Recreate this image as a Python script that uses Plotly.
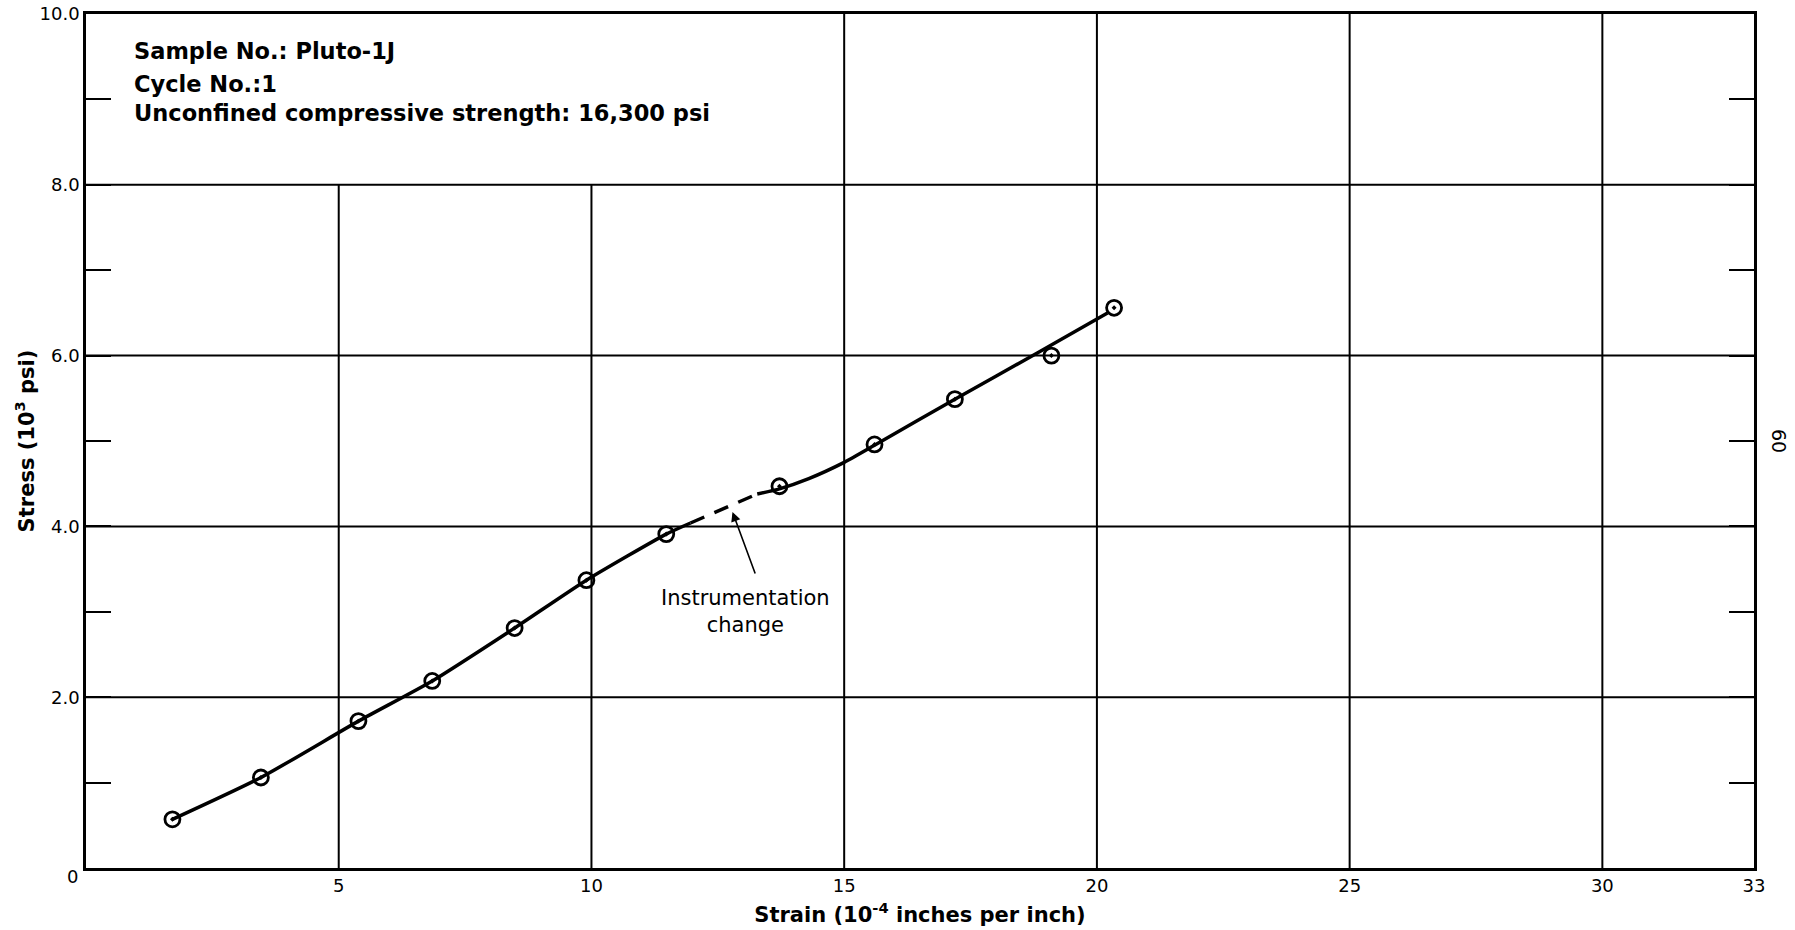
import plotly.graph_objects as go

# measured points (strain 1e-4 in/in, stress 1e3 psi)
strain = [1.71, 3.46, 5.39, 6.85, 8.48, 9.90, 11.48, 13.72, 15.60, 17.19, 19.10, 20.34]
stress = [0.57, 1.06, 1.72, 2.19, 2.81, 3.37, 3.91, 4.47, 4.96, 5.49, 6.00, 6.56]

# hand-drawn fitted curve (three pieces)
fit1_x = [1.71, 3.46, 5.39, 6.85, 8.48, 9.90, 11.48, 11.96]
fit1_y = [0.57, 1.06, 1.72, 2.19, 2.81, 3.37, 3.91, 4.04]
fitd_x = [11.96, 13.28]
fitd_y = [4.04, 4.38]
fit2_x = [13.28, 13.72, 14.3, 15.0, 15.6, 17.19, 18.82, 20.21]
fit2_y = [4.38, 4.44, 4.56, 4.75, 4.95, 5.49, 6.03, 6.50]

x_ticks = [5, 10, 15, 20, 25, 30, 33]
x_ticktext = ["5", "10", "15", "20", "25", "30", "33"]
y_ticks = [0, 1, 2, 3, 4, 5, 6, 7, 8, 9, 10]
y_ticktext = ["", "", "2.0", "", "4.0", "", "6.0", "", "8.0", "", "10.0"]
x_grid_short = [5, 10]
x_grid_full = [15, 20, 25, 30]
y_grid = [2, 4, 6, 8]

info_lines = ["Sample No.: Pluto-1J", "Cycle No.:1", "Unconfined compressive strength: 16,300 psi"]
info_y = [9.57, 9.18, 8.84]

FONT = "DejaVu Sans"
fig = go.Figure()

shapes = []
for gx in x_grid_short:
    shapes.append(dict(type="line", xref="x", yref="y", x0=gx, x1=gx, y0=0, y1=8,
                       line=dict(color="black", width=2), layer="below"))
for gx in x_grid_full:
    shapes.append(dict(type="line", xref="x", yref="y", x0=gx, x1=gx, y0=0, y1=10,
                       line=dict(color="black", width=2), layer="below"))
for gy in y_grid:
    shapes.append(dict(type="line", xref="x", yref="y", x0=0, x1=33, y0=gy, y1=gy,
                       line=dict(color="black", width=2), layer="below"))

fig.add_trace(go.Scatter(x=fit1_x, y=fit1_y, mode="lines", line=dict(color="black", width=3.5, shape="spline", smoothing=0.6), showlegend=False))
fig.add_trace(go.Scatter(x=fitd_x, y=fitd_y, mode="lines", line=dict(color="black", width=3.5, dash="15px,11px"), showlegend=False))
fig.add_trace(go.Scatter(x=fit2_x, y=fit2_y, mode="lines", line=dict(color="black", width=3.5, shape="spline", smoothing=0.6), showlegend=False))
fig.add_trace(go.Scatter(x=strain, y=stress, mode="markers",
                         marker=dict(symbol="circle-open-dot", size=15, color="black", line=dict(width=2.8, color="black")),
                         showlegend=False))

annotations = []
for t, yy in zip(info_lines, info_y):
    annotations.append(dict(x=0.91, y=yy, xref="x", yref="y", text=t, showarrow=False, xanchor="left",
                            yanchor="middle", font=dict(family=FONT, size=22.5, color="black", weight="bold")))
annotations.append(dict(x=13.05, y=3.0, xref="x", yref="y", text="Instrumentation<br>change", showarrow=False,
                        font=dict(family=FONT, size=21, color="black"), align="center"))
annotations.append(dict(x=12.79, y=4.17, xref="x", yref="y", ax=13.25, ay=3.43, axref="x", ayref="y", text="",
                        showarrow=True, arrowhead=2, arrowsize=1.2, arrowwidth=1.6, arrowcolor="black"))
annotations.append(dict(x=-0.0078, y=-0.0105, xref="paper", yref="paper", text="0", showarrow=False,
                        xanchor="center", yanchor="middle", font=dict(family=FONT, size=18, color="black")))
annotations.append(dict(x=1.015, y=0.5, xref="paper", yref="paper", text="60", textangle=90, showarrow=False,
                        xanchor="center", font=dict(family=FONT, size=19, color="black")))

fig.update_layout(
    width=1795, height=930,
    margin=dict(l=86, r=41, t=14, b=62, autoexpand=False),
    paper_bgcolor="white", plot_bgcolor="white",
    shapes=shapes, annotations=annotations,
    xaxis=dict(range=[0, 33], tickvals=x_ticks, ticktext=x_ticktext, showgrid=False, zeroline=False,
               showline=True, linecolor="black", linewidth=2.5, mirror=True, ticks="", automargin=False,
               tickfont=dict(family=FONT, size=18, color="black"),
               title=dict(text="Strain (10<sup>-4</sup> inches per inch)", font=dict(family=FONT, size=21, color="black", weight="bold"), standoff=12)),
    yaxis=dict(range=[0, 10], tickvals=y_ticks, ticktext=y_ticktext, showgrid=False, zeroline=False,
               showline=True, linecolor="black", linewidth=2.5, mirror="ticks", ticks="inside", ticklen=25,
               tickwidth=2, tickcolor="black", automargin=False,
               tickfont=dict(family=FONT, size=18, color="black"),
               title=dict(text="Stress (10<sup>3</sup> psi)", font=dict(family=FONT, size=21, color="black", weight="bold"), standoff=0)),
)

fig.write_html("out.html")
